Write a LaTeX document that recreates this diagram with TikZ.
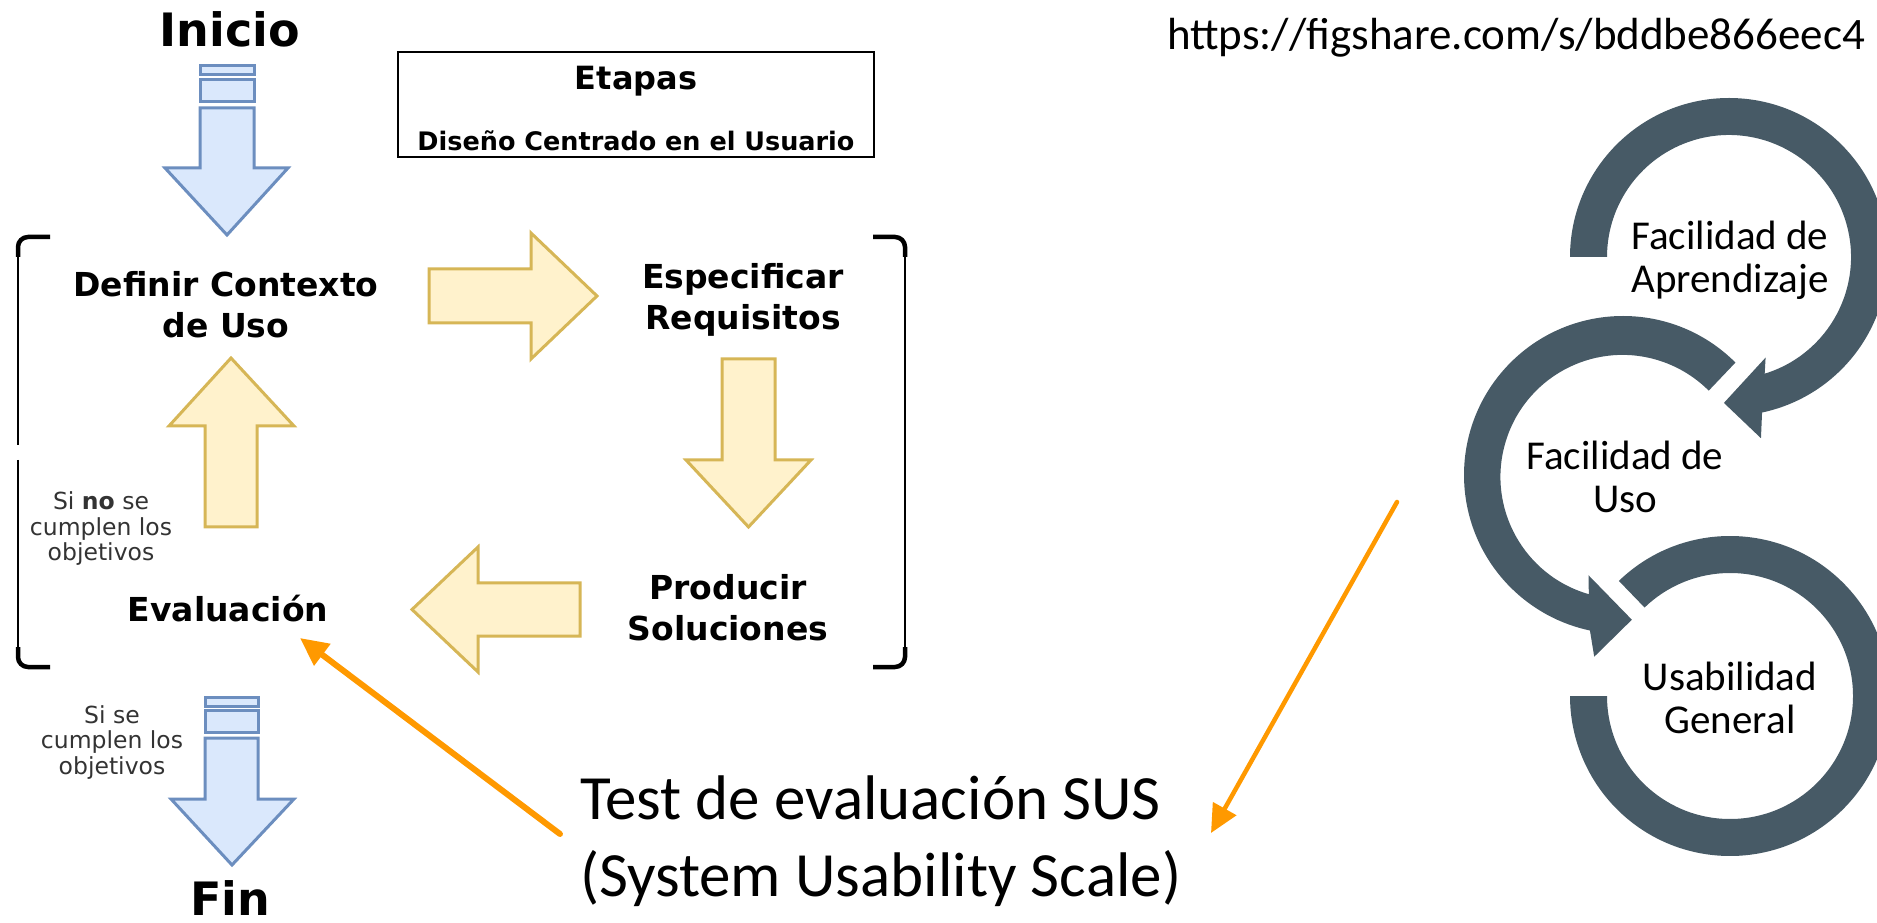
\documentclass[tikz,border=0pt]{standalone}
\usepackage{fontspec}
\usetikzlibrary{arrows.meta}
\newfontfamily\dvfont{DejaVu Sans}
\newfontfamily\cbfont{Carlito}
\definecolor{yfill}{HTML}{FFF2CC}
\definecolor{ydraw}{HTML}{D6B656}
\definecolor{bfill}{HTML}{DAE8FC}
\definecolor{bdraw}{HTML}{6C8EBF}
\definecolor{orng}{HTML}{FF9900}
\definecolor{slate}{RGB}{71,90,102}
\definecolor{notegray}{HTML}{333333}
\begin{document}
\begin{tikzpicture}[x=1pt,y=1pt,
  every node/.style={inner sep=0pt,outer sep=0pt},
  yarrow/.style={fill=yfill,draw=ydraw,line width=3pt,line join=miter},
  barrow/.style={fill=bfill,draw=bdraw,line width=3pt,line join=miter},
  stage/.style={font=\dvfont\bfseries\fontsize{33}{41}\selectfont,align=center,anchor=base},
  term/.style={font=\dvfont\bfseries\fontsize{46}{50}\selectfont,anchor=base},
  cond/.style={font=\dvfont\fontsize{23.5}{25.5}\selectfont,text=notegray,align=center,anchor=base},
  ringlbl/.style={font=\cbfont\fontsize{41}{43}\selectfont,align=center,anchor=base},
  ring/.style={fill=slate,draw=none},
  callout/.style={draw=orng,line cap=round,-{Triangle[length=28pt,width=26pt]}},
  bracketline/.style={draw=black,line width=2.5pt},
  bracketcorner/.style={draw=black,line width=4.5pt,rounded corners=10pt}
]
\useasboundingbox (0,0) rectangle (1877,922);

% ---------- terminals ----------
\node[term] (inicio) at (230,875) {Inicio};
\node[term] (fin) at (230,7) {Fin};

% ---------- legend box ----------
\node[draw,line width=1.5pt,minimum width=476pt,minimum height=105pt,anchor=north west] (etapasbox) at (398,870) {};
\node[font=\dvfont\bfseries\fontsize{32}{36}\selectfont,anchor=base] (etapas) at (636,832) {Etapas};
\node[font=\dvfont\bfseries\fontsize{25.5}{28}\selectfont,anchor=base] (dcu) at (636,771) {Diseño Centrado en el Usuario};

% ---------- brackets ----------
\draw[bracketline] (18,670) -- (18,477);
\draw[bracketline] (18,462) -- (18,270);
\draw[bracketcorner] (50,685) -- (18,685) -- (18,665);
\draw[bracketcorner] (18,275) -- (18,255) -- (50,255);
\draw[bracketline] (905,670) -- (905,270);
\draw[bracketcorner] (873,685) -- (905,685) -- (905,665);
\draw[bracketcorner] (905,275) -- (905,255) -- (873,255);

% ---------- stages (base = last line) ----------
\node[stage] (ctx) at (226,584) {Definir Contexto\\de Uso};
\node[stage] (req) at (743,592) {Especificar\\Requisitos};
\node[stage] (sol) at (728,282) {Producir\\Soluciones};
\node[stage] (eva) at (228,301) {Evaluación};

\node[cond] (nocond) at (101,361) {Si \textbf{no} se\\cumplen los\\objetivos};
\node[cond] (sicond) at (112,148) {Si se\\cumplen los\\objetivos};

% ---------- yellow block arrows ----------
\draw[yarrow] (429,653) -- (531,653) -- (531,689) -- (597,626) -- (531,563) -- (531,599) -- (429,599) -- cycle;
\draw[yarrow] (722,563) -- (775,563) -- (775,462) -- (811,462) -- (748.5,395) -- (686,462) -- (722,462) -- cycle;
\draw[yarrow] (580,339) -- (478,339) -- (478,375) -- (412,312.5) -- (478,250) -- (478,286) -- (580,286) -- cycle;
\draw[yarrow] (205,395) -- (257,395) -- (257,496) -- (294,496) -- (231,564) -- (169,496) -- (205,496) -- cycle;

% ---------- blue block arrows ----------
\draw[barrow] (200,856) rectangle (254,847);
\draw[barrow] (200,842) rectangle (254,820);
\draw[barrow] (200,814) -- (254,814) -- (254,754) -- (288,754) -- (227,687) -- (165,754) -- (200,754) -- cycle;
\draw[barrow] (205,225) rectangle (258,216);
\draw[barrow] (205,212) rectangle (258,190);
\draw[barrow] (205,184) -- (258,184) -- (258,123) -- (294,123) -- (232,57) -- (171,123) -- (205,123) -- cycle;

% ---------- rings ----------
\begin{scope}[shift={(1729,665)}]
\fill[ring] (180:159) arc[start angle=180,end angle=-78,radius=159] -- (-80:184) -- (-92:146) -- (-70:107) -- (-73:122) arc[start angle=-73,end angle=180,radius=122] -- cycle;
\end{scope}
\begin{scope}[shift={(1623,447)}]
\fill[ring] (45:159) arc[start angle=45,end angle=258,radius=159] -- (261:184) -- (273.5:145) -- (251:106) -- (254:124) arc[start angle=254,end angle=45,radius=122] -- cycle;
\end{scope}
\begin{scope}[shift={(1730,226)}]
\fill[ring] (134:160) arc[start angle=134,end angle=-180,radius=160] -- (180:123) arc[start angle=-180,end angle=134,radius=123] -- cycle;
\end{scope}

\node[ringlbl] (fap) at (1730,629) {Facilidad de\\Aprendizaje};
\node[ringlbl] (fus) at (1625,409) {Facilidad de\\Uso};
\node[ringlbl] (ug) at (1730,189) {Usabilidad\\General};

% ---------- texts ----------
\node[font=\cbfont\fontsize{45}{50}\selectfont,anchor=base west] (url) at (1167,872) {https://figshare.com/s/bddbe866eec4};
\node[font=\cbfont\fontsize{63}{77}\selectfont,align=left,anchor=base west] (sus) at (580,26) {Test de evaluación SUS\\(System Usability Scale)};

% ---------- callouts ----------
\coordinate (c1s) at (560,88);
\coordinate (c1e) at (300,284);
\coordinate (c2s) at (1397,420);
\coordinate (c2e) at (1211,89);
\draw[callout,line width=6pt] (c1s) -- (c1e);
\draw[callout,line width=4.5pt] (c2s) -- (c2e);
\end{tikzpicture}
\end{document}
